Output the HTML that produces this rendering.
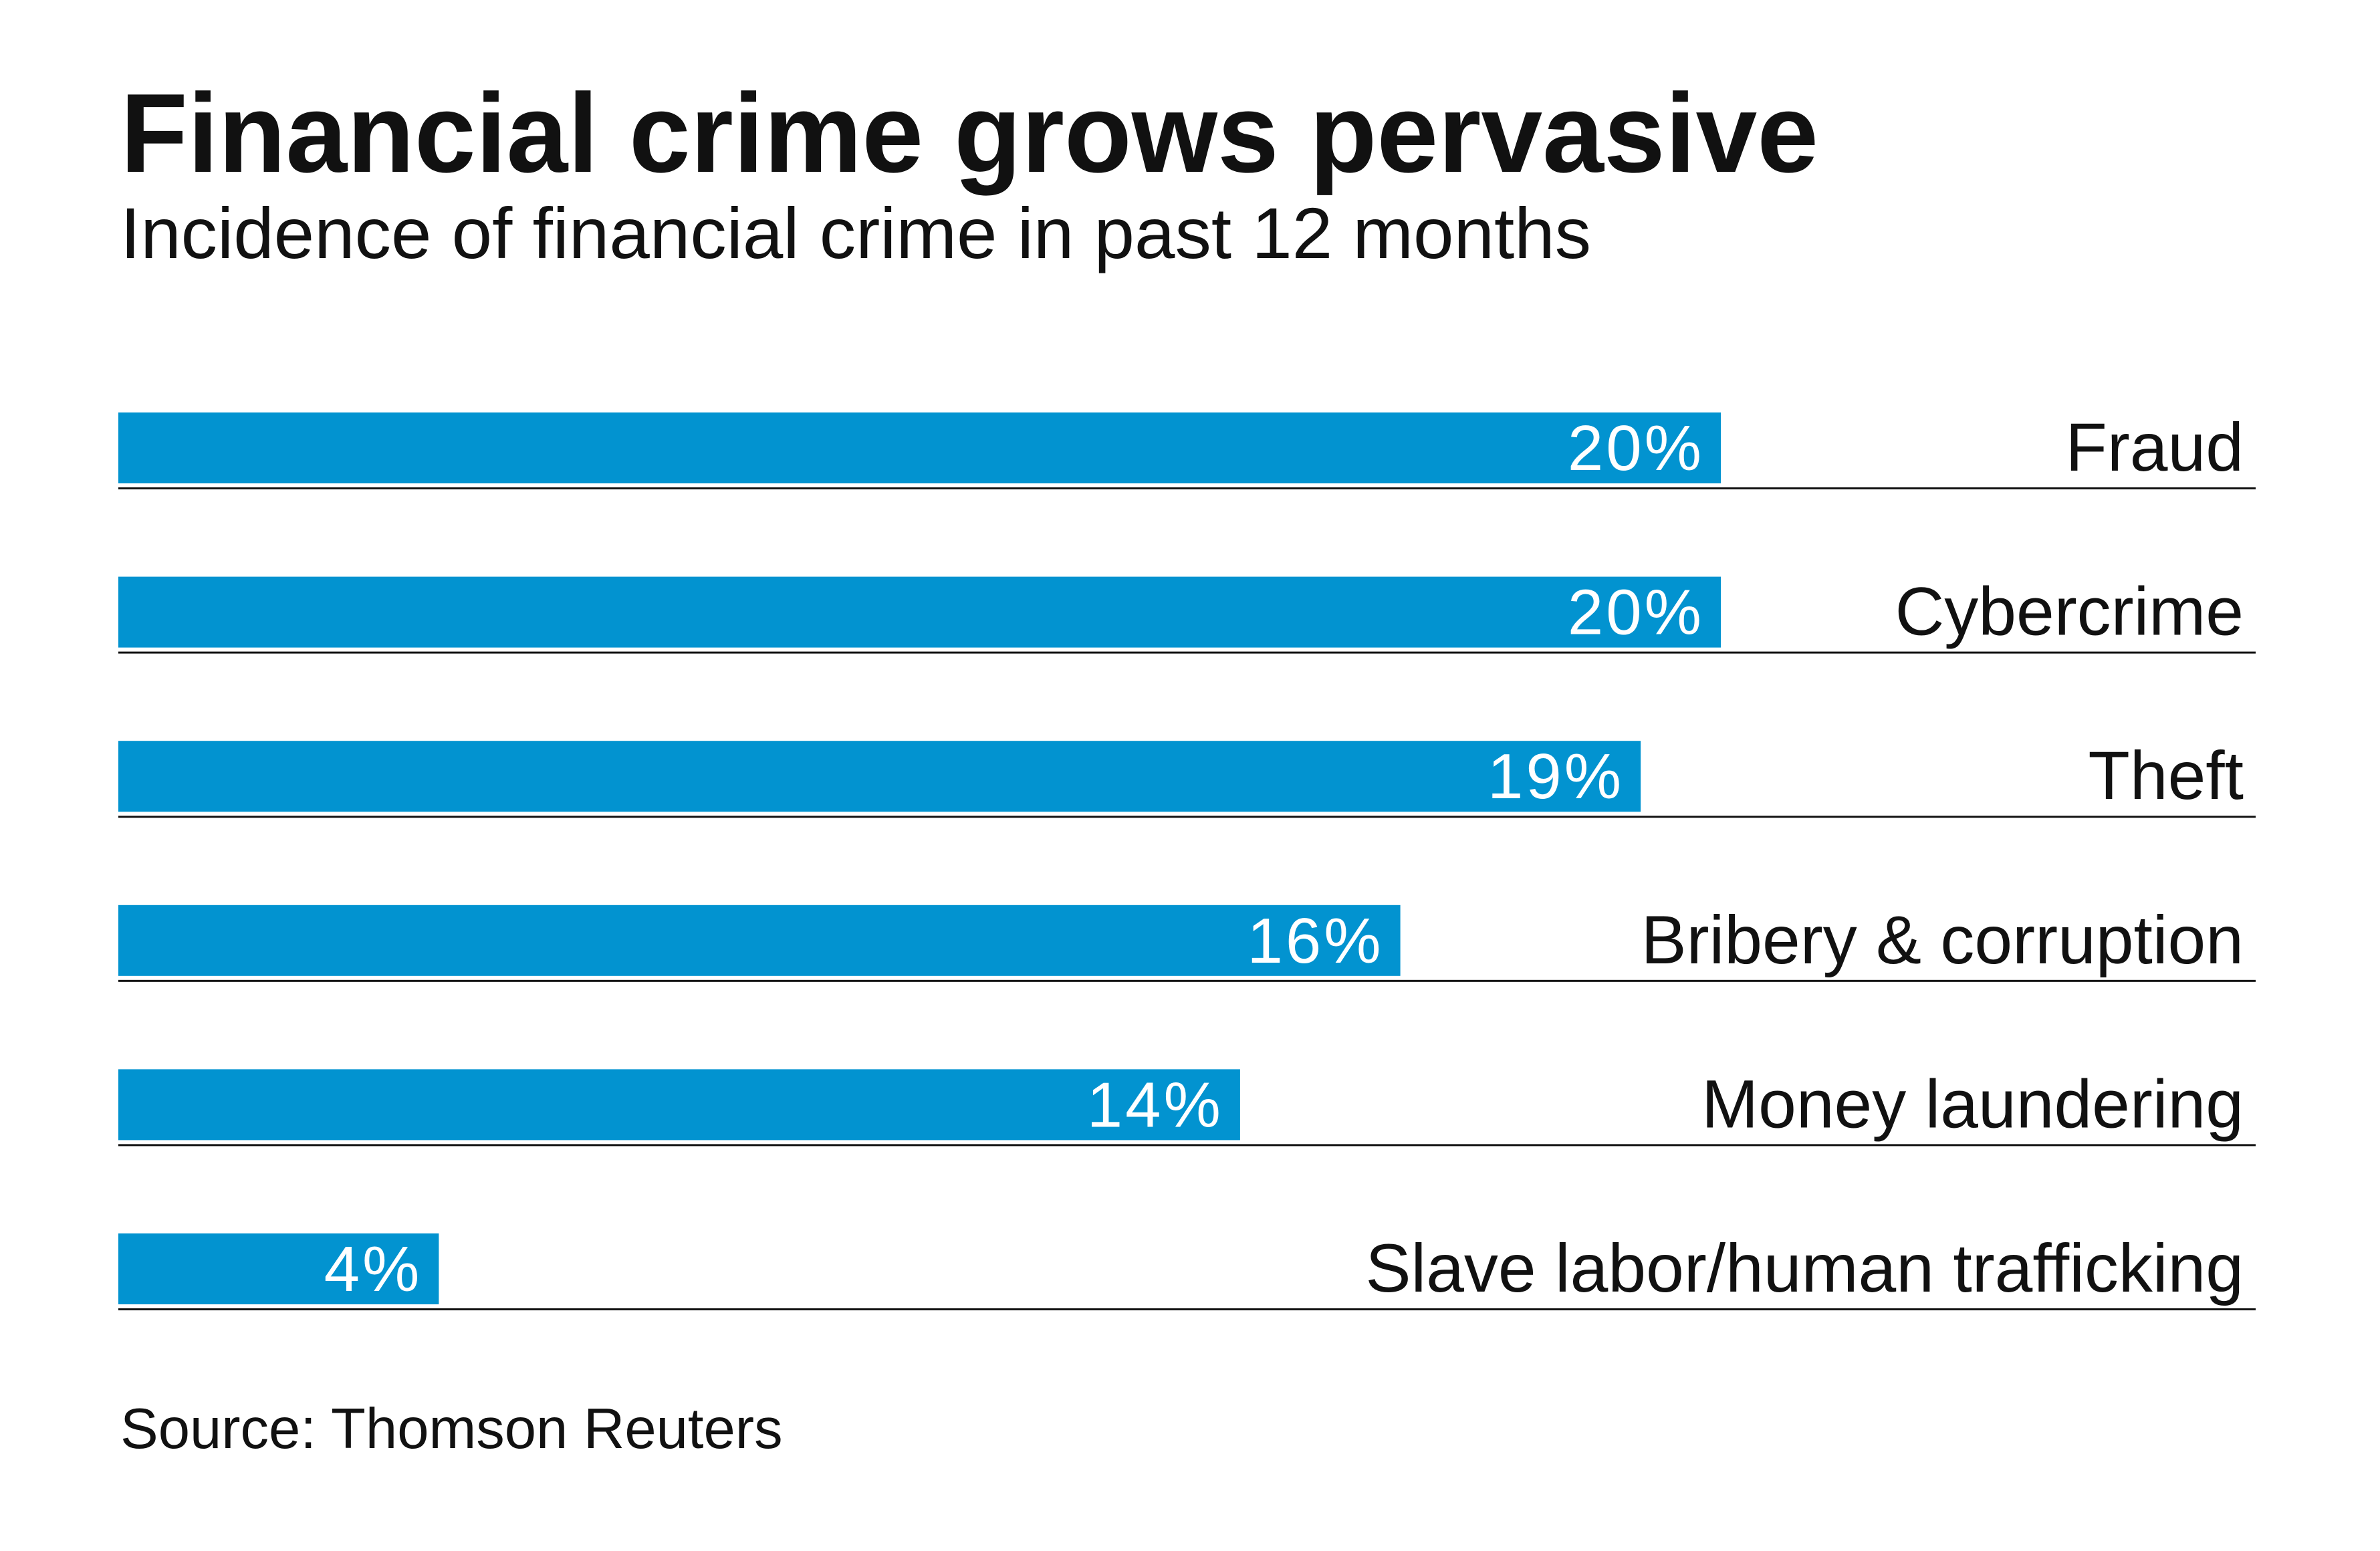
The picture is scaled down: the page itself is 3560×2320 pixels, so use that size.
<!DOCTYPE html>
<html><head><meta charset="utf-8"><style>
html,body{margin:0;padding:0;background:#fff;}
svg{display:block;font-family:"Liberation Sans",sans-serif;}
</style></head><body>
<svg id="chart" width="3560" height="2320" viewBox="0 0 3560 2320" xmlns="http://www.w3.org/2000/svg">
<rect width="3560" height="2320" fill="#fff"/>
<text x="180" y="257" font-size="168" font-weight="bold" fill="#111" textLength="2540" lengthAdjust="spacingAndGlyphs">Financial crime grows pervasive</text>
<text x="180" y="386" font-size="108" fill="#111" textLength="2200" lengthAdjust="spacingAndGlyphs">Incidence of financial crime in past 12 months</text>
<g id="bars"></g>
<text x="180" y="2166" font-size="85" fill="#111">Source: Thomson Reuters</text>
</svg>
<script>
const categories = ["Fraud","Cybercrime","Theft","Bribery & corruption","Money laundering","Slave labor/human trafficking"];
const values = [20,20,19,16,14,4];
const valueLabels = ["20%","20%","19%","16%","14%","4%"];

const NS = "http://www.w3.org/2000/svg";
const x0 = 177, pxPer = 119.85, top0 = 617, pitch = 245.6, barH = 106, lineEnd = 3374;
const xScale = v => x0 + v * pxPer;
const yScale = i => top0 + i * pitch;
const g = document.getElementById("bars");
function mk(tag, attrs){const e=document.createElementNS(NS,tag);for(const k in attrs)e.setAttribute(k,attrs[k]);return e;}
categories.forEach((c,i)=>{
  const y = yScale(i);
  const bar = mk("rect",{x:x0,y:y,width:xScale(values[i])-x0,height:barH,fill:"#0293d0"});
  
  
  g.appendChild(bar);
  const line = mk("rect",{x:x0,y:y+barH+6,width:lineEnd-x0,height:3,fill:"#111"});
  
  
  g.appendChild(line);
  const vl = mk("text",{x:xScale(values[i])-25,y:y+86,"font-size":96,fill:"#fff","text-anchor":"end","letter-spacing":4});
  vl.textContent = valueLabels[i];
  
  
  g.appendChild(vl);
  const cl = mk("text",{x:3356,y:y+87,"font-size":102,fill:"#111","text-anchor":"end"});
  cl.textContent = c;
  
  
  g.appendChild(cl);
});
</script>
</body></html>
